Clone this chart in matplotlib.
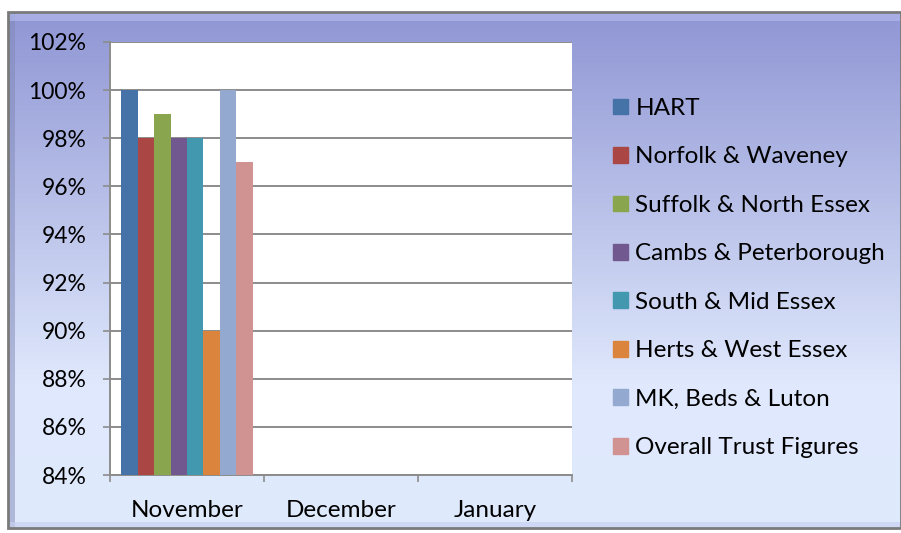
import numpy as np
import matplotlib.pyplot as plt
from matplotlib.colors import LinearSegmentedColormap
from matplotlib.patches import Patch, Rectangle

plt.rcParams['font.family'] = ['Lato', 'DejaVu Sans']

months = ['November', 'December', 'January']
areas = ['HART', 'Norfolk & Waveney', 'Suffolk & North Essex', 'Cambs & Peterborough',
         'South & Mid Essex', 'Herts & West Essex', 'MK, Beds & Luton', 'Overall Trust Figures']
# only November has figures so far
nov_values = [100, 98, 99, 98, 98, 90, 100, 97]
colors = ['#4572a7', '#aa4643', '#89a54e', '#71588f', '#4198af', '#db843d', '#93a9cf', '#d19392']
yticks = [84, 86, 88, 90, 92, 94, 96, 98, 100, 102]

fig = plt.figure(figsize=(9.01, 5.33), dpi=100)

# background frame with vertical gradient
bg = fig.add_axes([0, 0, 1, 1], zorder=-10)
bg.set_xlim(0, 901)
bg.set_ylim(533, 0)
bg.axis('off')
cmap = LinearSegmentedColormap.from_list('bg', [(0, '#8f96d4'), (0.72, '#dfe8fc'), (1, '#e0eafd')])
grad = np.linspace(0, 1, 256).reshape(-1, 1)
bg.imshow(grad, cmap=cmap, extent=[8, 901, 528, 12], aspect='auto', zorder=0)
bg.add_patch(Rectangle((8, 12), 893, 516, fill=False, ec='#7a7a7a', lw=2, zorder=2))
bg.add_patch(Rectangle((9, 13), 6, 514, fc='#8088b8', ec='none', alpha=0.5, zorder=1))
bg.add_patch(Rectangle((9, 13), 892, 8, fc='#b9bff0', ec='none', alpha=0.6, zorder=1))
bg.add_patch(Rectangle((9, 522), 892, 6, fc='#c8d0f0', ec='none', alpha=0.7, zorder=1))

ax = fig.add_axes([110 / 901, 1 - 475 / 533, 462 / 901, 433 / 533])
ax.set_facecolor('white')

x = np.arange(len(months))
n = len(areas)
w = 0.107
for i, (name, c) in enumerate(zip(areas, colors)):
    ax.bar(x[0] + (i - (n - 1) / 2) * w, nov_values[i], width=w, color=c, label=name, zorder=3)

ax.set_xlim(-0.5, 2.5)
ax.set_ylim(84, 102)
ax.set_yticks(yticks)
ax.set_yticklabels([f'{v}%' for v in yticks], fontsize=16.5)
ax.set_xticks(x)
ax.set_xticklabels(months, fontsize=17.5)
ax.set_xticks([-0.5, 0.5, 1.5, 2.5], minor=True)
ax.tick_params(axis='x', which='major', length=0, pad=18)
ax.tick_params(axis='x', which='minor', length=5, color='#8c8c8c', width=1.2)
ax.tick_params(axis='y', length=5, color='#8c8c8c', width=1.2, pad=12)
ax.grid(axis='y', color='#8c8c8c', lw=1.4, zorder=1)
for s in ['top', 'right']:
    ax.spines[s].set_visible(False)
for s in ['left', 'bottom']:
    ax.spines[s].set_color('#8c8c8c')
    ax.spines[s].set_linewidth(1.4)

handles = [Patch(color=c, label=a) for a, c in zip(areas, colors)]
fig.legend(handles=handles, loc='upper left', bbox_to_anchor=(613 / 901, 1 - 98 / 533),
           frameon=False, fontsize=17.5, handlelength=0.62, handleheight=0.62,
           handletextpad=0.3, labelspacing=1.13, borderaxespad=0, borderpad=0)

fig.savefig('out.png', dpi=100)
